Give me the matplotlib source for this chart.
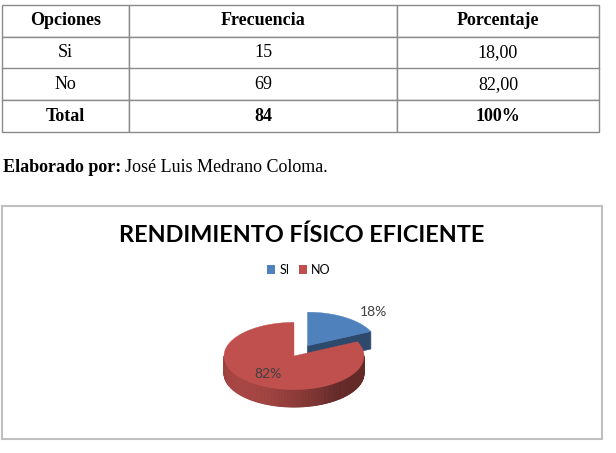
import numpy as np
import matplotlib
matplotlib.use("Agg")
import matplotlib.pyplot as plt
from matplotlib.patches import Polygon, Rectangle, Patch

# tabla
col_labels = ["Opciones", "Frecuencia", "Porcentaje"]
opciones = ["Si", "No", "Total"]
frecuencia = ["15", "69", "84"]
porcentaje = ["18,00", "82,00", "100%"]

# grafico
titulo = "RENDIMIENTO FÍSICO EFICIENTE"
categorias = ["SI", "NO"]
valores = [18, 82]
etiquetas = ["18%", "82%"]
colores = ["#4F81BD", "#C0504D"]
explode = [0.36, 0.0]

W, H = 616, 453
fig = plt.figure(figsize=(W / 100, H / 100), dpi=100)


def px_axes(x0, y0, x1, y1):
    # caja en pixeles (origen arriba a la izquierda)
    return fig.add_axes([x0 / W, 1 - y1 / H, (x1 - x0) / W, (y1 - y0) / H])


ax0 = fig.add_axes([0, 0, 1, 1])
ax0.set_xlim(0, W)
ax0.set_ylim(H, 0)
ax0.axis("off")

# ---- tabla ----
tax = px_axes(2, 5, 599, 132)
tax.axis("off")
cell_text = [[o, f, p] for o, f, p in zip(opciones, frecuencia, porcentaje)]
tbl = tax.table(cellText=cell_text, colLabels=col_labels, cellLoc="center",
                colWidths=[127, 268, 202], bbox=[0, 0, 1, 1])
tbl.auto_set_font_size(False)
for (r, c), cell in tbl.get_celld().items():
    cell.set_edgecolor("#8a8a8a")
    cell.set_linewidth(1.0)
    txt = cell.get_text()
    txt.set_fontfamily("Liberation Serif")
    txt.set_fontsize(13)
    if r == 0 or r == len(opciones):
        txt.set_fontweight("bold")

# ---- elaborado por ----
t1 = ax0.text(3, 172, "Elaborado por:", fontfamily="Liberation Serif",
              fontweight="bold", fontsize=13, va="baseline")
fig.canvas.draw()
bb = t1.get_window_extent()
xend = ax0.transData.inverted().transform((bb.x1, bb.y0))[0]
ax0.text(xend + 4, 172, "José Luis Medrano Coloma.", fontfamily="Liberation Serif",
         fontsize=13, va="baseline")

# ---- caja del grafico ----
ax0.add_patch(Rectangle((2, 206), 600, 233, fill=False, ec="#bfbfbf", lw=1.5))
ax0.text(302, 235, titulo, ha="center", va="center", fontsize=16.8,
         fontweight="bold", fontfamily="Lato", color="black")

fig.legend(handles=[Patch(fc=c) for c in colores], labels=categorias,
           loc="center", bbox_to_anchor=(299 / W, 1 - 270 / H), ncol=2,
           frameon=False, handlelength=0.65, handleheight=0.65,
           handletextpad=0.3, columnspacing=0.8,
           prop={"family": "Lato", "size": 9})

# ---- pastel 3D ----
pax = px_axes(182, 272, 406, 440)
pax.set_xlim(-1.6, 1.6)
pax.set_ylim(-1.2, 1.2)
pax.axis("off")

tilt = 0.48
depth = 0.25
L = np.array([-0.8, -0.6])


def shade(col, f):
    rgb = np.array(matplotlib.colors.to_rgb(col))
    return tuple(np.clip(rgb * f, 0, 1))


def rim(th, cx, cy):
    return np.column_stack([cx + np.sin(th), cy + np.cos(th) * tilt])


fr = np.array(valores, dtype=float) / sum(valores)
lims = np.concatenate([[0], np.cumsum(fr)]) * 2 * np.pi
mids = (lims[:-1] + lims[1:]) / 2
orden = np.argsort(-np.cos(mids))

for i in orden:
    t0, t1_, m = lims[i], lims[i + 1], mids[i]
    cx = explode[i] * np.sin(m)
    cy = explode[i] * np.cos(m) * tilt
    col = colores[i]
    # caras radiales
    if np.sin(t1_) > 1e-6:
        n = np.array([np.cos(t1_), -np.sin(t1_)])
        f = 0.5 + 0.35 * max(n @ L, 0)
        p = rim(np.array([t1_]), cx, cy)[0]
        pax.add_patch(Polygon([(cx, cy), p, (p[0], p[1] - depth), (cx, cy - depth)],
                              closed=True, fc=shade(col, f), ec=shade(col, f), lw=0.5))
    if np.sin(t0) < -1e-6:
        n = np.array([-np.cos(t0), np.sin(t0)])
        f = 0.5 + 0.35 * max(n @ L, 0)
        p = rim(np.array([t0]), cx, cy)[0]
        pax.add_patch(Polygon([(cx, cy), p, (p[0], p[1] - depth), (cx, cy - depth)],
                              closed=True, fc=shade(col, f), ec=shade(col, f), lw=0.5))
    # borde exterior
    th = np.linspace(t0, t1_, 240)
    pts = rim(th, cx, cy)
    for k in range(len(th) - 1):
        tm = (th[k] + th[k + 1]) / 2
        if np.cos(tm) >= 0:
            continue
        nrm = np.array([np.sin(tm), np.cos(tm)])
        f = 0.52 + 0.35 * max(nrm @ L, 0)
        a, b = pts[k], pts[k + 1]
        c = shade(col, f)
        pax.add_patch(Polygon([a, b, (b[0], b[1] - depth), (a[0], a[1] - depth)],
                              closed=True, fc=c, ec=c, lw=0.6))
    # cara superior
    top = np.vstack([[cx, cy], pts])
    pax.add_patch(Polygon(top, closed=True, fc=col, ec=col, lw=0.3))

    # etiqueta
    if np.cos(m) > 0:
        lx = cx + 1.4 * np.sin(m)
        ly = cy + 1.2 * np.cos(m) * tilt
        pax.text(lx, ly, etiquetas[i], ha="left", va="center", fontsize=10,
                 fontfamily="Lato", color="#404040")
    else:
        lx = cx + 0.7 * np.sin(m)
        ly = cy + 0.65 * np.cos(m) * tilt
        pax.text(lx, ly, etiquetas[i], ha="center", va="center", fontsize=10,
                 fontfamily="Lato", color="#404040")

fig.savefig("out.png", dpi=100)
